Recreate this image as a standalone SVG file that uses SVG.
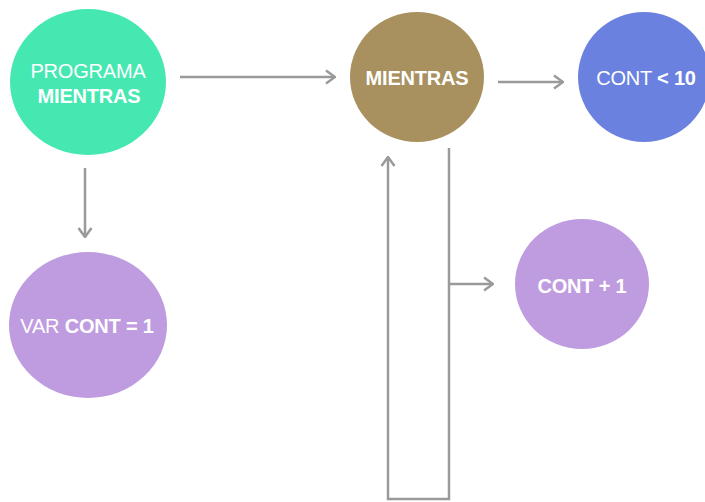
<svg xmlns="http://www.w3.org/2000/svg" width="705" height="502" viewBox="0 0 705 502">
  <style>
    .lbl { font-family: "Liberation Sans", Arial, sans-serif; font-size: 20px; fill: #ffffff; text-anchor: middle; letter-spacing: -0.2px; }
    .b { font-weight: bold; }
    .wire { fill: none; stroke: #9a9a9a; stroke-width: 2.5; }
  </style>
  <defs>
    <marker id="arrow" viewBox="0 0 12 16" refX="11" refY="8" markerWidth="12" markerHeight="16" markerUnits="userSpaceOnUse" orient="auto">
      <path d="M2,1.5 L11,8 L2,14.5" fill="none" stroke="#9a9a9a" stroke-width="2.5"/>
    </marker>
  </defs>

  <g id="connectors">
    <line class="wire" x1="180" y1="77" x2="335" y2="77" marker-end="url(#arrow)"/>
    <line class="wire" x1="498" y1="82" x2="563" y2="82" marker-end="url(#arrow)"/>
    <line class="wire" x1="85" y1="168" x2="85" y2="237" marker-end="url(#arrow)"/>
    <polyline class="wire" points="449,148 449,499 388,499 388,157" marker-end="url(#arrow)"/>
    <line class="wire" x1="449" y1="284" x2="493" y2="284" marker-end="url(#arrow)"/>
  </g>

  <g id="programa">
    <ellipse cx="88" cy="82" rx="78" ry="73" fill="#46e8b2"/>
    <text class="lbl" x="88" y="78">PROGRAMA</text>
    <text class="lbl b" x="89" y="103">MIENTRAS</text>
  </g>

  <g id="mientras">
    <ellipse cx="417" cy="77" rx="67" ry="65" fill="#a8915f"/>
    <text class="lbl b" x="417" y="85">MIENTRAS</text>
  </g>

  <g id="condicion">
    <ellipse cx="644" cy="77" rx="66" ry="65" fill="#6b81df"/>
    <text class="lbl" x="646" y="85">CONT <tspan class="b">&lt; 10</tspan></text>
  </g>

  <g id="var-cont">
    <ellipse cx="88" cy="325" rx="79" ry="73" fill="#bf9be0"/>
    <text class="lbl" x="87" y="333">VAR <tspan class="b">CONT = 1</tspan></text>
  </g>

  <g id="incremento">
    <ellipse cx="582" cy="284" rx="67" ry="65" fill="#bf9be0"/>
    <text class="lbl b" x="582" y="293">CONT + 1</text>
  </g>
</svg>
